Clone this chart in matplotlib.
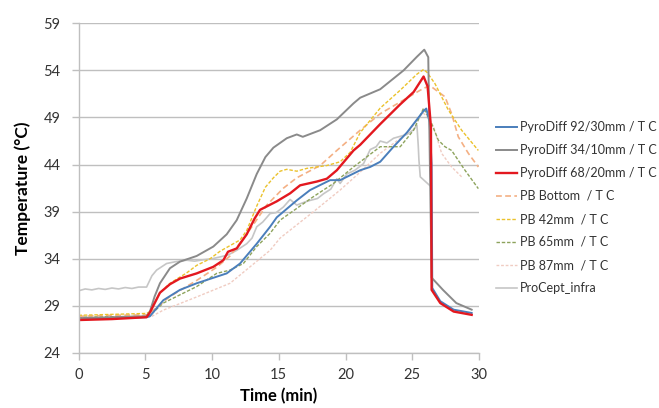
import matplotlib
matplotlib.use("Agg")
import matplotlib.pyplot as plt

plt.rcParams['font.family'] = ['Lato', 'DejaVu Sans']

# ---- data (time in min, temperature in degC) ----
blue_t = [0, 2.5, 5.1, 5.35, 6.35, 7.6, 8.85, 10.35, 11.1, 12.1, 13.35, 14.35, 14.85, 16.35, 17.35, 18.85, 19.6, 20.1, 21.1, 21.85, 22.6, 23.6, 24.6, 25.85, 26.05, 26.3, 26.45, 26.5, 27.1, 28.1, 29.45]
blue_T = [27.6, 27.7, 27.8, 27.9, 29.6, 30.7, 31.4, 32.1, 32.45, 33.5, 35.6, 37.4, 38.4, 40.2, 41.3, 42.35, 42.35, 42.7, 43.4, 43.75, 44.3, 45.9, 47.4, 49.7, 49.95, 48.5, 44.0, 30.9, 29.5, 28.6, 28.25]

grey_t = [0, 2.5, 5.1, 5.35, 5.7, 6.1, 6.85, 7.6, 8.85, 10.1, 11.1, 11.85, 12.6, 13.35, 14.0, 14.6, 15.6, 16.35, 16.8, 18.1, 19.35, 20.6, 21.1, 22.6, 24.35, 25.35, 25.9, 26.2, 26.45, 27.3, 28.3, 29.45]
grey_T = [27.7, 27.8, 27.9, 28.4, 30.0, 31.4, 33.0, 33.7, 34.3, 35.3, 36.6, 38.1, 40.4, 43.0, 44.8, 45.8, 46.8, 47.2, 46.95, 47.65, 48.8, 50.5, 51.1, 52.0, 54.0, 55.45, 56.2, 55.4, 32.0, 30.7, 29.3, 28.6]

red_t = [0, 2.5, 5.1, 5.35, 6.1, 6.85, 7.6, 8.85, 10.1, 10.85, 11.2, 11.85, 12.6, 13.2, 13.6, 14.85, 15.85, 16.6, 17.85, 18.6, 19.35, 20.6, 21.1, 22.6, 24.1, 25.1, 25.85, 26.15, 26.4, 26.45, 27.1, 28.1, 29.45]
red_T = [27.5, 27.6, 27.8, 28.3, 30.4, 31.3, 31.9, 32.45, 33.15, 33.85, 34.75, 35.1, 36.6, 38.3, 39.2, 40.1, 40.95, 41.8, 42.2, 42.5, 43.4, 45.5, 46.1, 48.3, 50.4, 51.7, 53.35, 52.3, 48.0, 30.7, 29.3, 28.4, 28.05]

orange_t = [0, 2.5, 5.1, 5.4, 6.85, 8.85, 10.35, 11.35, 12.6, 14.1, 15.35, 16.35, 18.1, 19.35, 21.1, 22.6, 24.1, 25.6, 26.3, 26.45, 27.45, 27.95, 28.45, 29.2, 29.95]
orange_T = [27.9, 28.0, 28.05, 28.3, 30.0, 31.7, 33.1, 34.3, 36.6, 39.7, 41.5, 42.6, 43.9, 45.5, 47.65, 49.4, 50.65, 51.9, 52.4, 52.25, 51.2, 49.4, 46.95, 45.2, 43.75]

yellow_t = [0, 2.5, 5.1, 5.35, 6.1, 6.85, 8.1, 8.85, 9.85, 10.6, 11.35, 12.1, 12.6, 13.35, 14.0, 14.6, 15.1, 15.6, 16.35, 17.1, 18.6, 19.6, 20.35, 21.1, 22.6, 24.1, 25.35, 25.85, 26.1, 26.7, 27.7, 28.7, 29.95]
yellow_T = [28.0, 28.1, 28.2, 28.4, 30.4, 31.4, 32.5, 33.3, 34.0, 34.8, 35.4, 36.0, 37.0, 39.6, 41.6, 42.6, 43.3, 43.5, 43.3, 43.6, 43.9, 44.3, 45.3, 47.4, 50.0, 51.9, 53.6, 54.1, 53.8, 52.6, 49.8, 47.65, 45.5]

green_t = [0, 2.5, 5.1, 5.35, 6.35, 8.85, 10.35, 11.35, 12.35, 13.35, 14.35, 15.1, 17.6, 19.1, 20.6, 22.6, 24.1, 25.1, 25.85, 26.45, 26.95, 27.45, 27.95, 28.95, 29.95]
green_T = [27.8, 27.85, 27.9, 28.0, 29.3, 31.05, 32.45, 32.8, 33.5, 35.3, 36.7, 38.1, 40.6, 42.0, 43.75, 45.9, 45.9, 47.65, 50.0, 48.35, 46.6, 45.9, 45.5, 43.4, 41.45]

pink_t = [0, 2.5, 5.1, 5.5, 6.35, 8.85, 11.35, 12.85, 14.35, 15.1, 17.6, 19.6, 21.1, 22.6, 24.6, 25.8, 26.2, 26.6, 27.2, 27.95, 28.7]
pink_T = [27.7, 27.75, 27.8, 27.9, 28.55, 29.95, 31.4, 33.15, 34.9, 36.2, 39.0, 41.3, 43.2, 45.2, 47.3, 49.5, 49.0, 48.0, 45.2, 43.75, 42.7]

procept_t = [0, 0.5, 1.0, 1.5, 2.0, 2.5, 3.0, 3.5, 4.0, 4.5, 5.1, 5.5, 5.85, 6.6, 7.3, 8.1, 8.7, 9.35, 10.0, 10.6, 11.2, 11.85, 12.6, 13.0, 13.35, 13.8, 14.35, 14.8, 15.35, 15.85, 16.35, 16.9, 17.35, 17.9, 18.35, 18.9, 19.35, 19.6, 20.1, 20.7, 21.35, 21.85, 22.3, 22.6, 23.1, 23.6, 24.1, 24.6, 25.1, 25.35, 25.45, 25.5, 25.6, 26.3]
procept_T = [30.6, 30.8, 30.7, 30.85, 30.75, 30.9, 30.8, 30.95, 30.85, 31.0, 31.0, 32.2, 32.8, 33.5, 33.7, 33.85, 33.75, 33.9, 34.0, 34.2, 34.4, 34.9, 35.6, 36.2, 37.4, 37.9, 38.8, 38.9, 39.5, 40.3, 39.7, 40.0, 40.2, 40.4, 40.9, 41.4, 42.5, 42.0, 43.0, 43.4, 44.1, 45.6, 45.9, 46.5, 46.3, 46.8, 47.0, 47.2, 47.7, 48.2, 46.0, 44.5, 42.7, 41.8]

labels = ["PyroDiff 92/30mm / T C", "PyroDiff 34/10mm / T C", "PyroDiff 68/20mm / T C",
          "PB Bottom  / T C", "PB 42mm  / T C", "PB 65mm  / T C", "PB 87mm  / T C", "ProCept_infra"]

xticks = [0, 5, 10, 15, 20, 25, 30]
yticks = [24, 29, 34, 39, 44, 49, 54, 59]

fig = plt.figure(figsize=(6.59, 4.08), dpi=100)
ax = fig.add_axes([78.5/659, 1-353/408, (479-78.5)/659, (353-23.3)/408])

series = [
    (blue_t, blue_T, dict(color='#4A7EBB', lw=1.4, ls='-')),
    (grey_t, grey_T, dict(color='#8A8A8A', lw=1.4, ls='-')),
    (red_t, red_T, dict(color='#E3181F', lw=1.7, ls='-')),
    (orange_t, orange_T, dict(color='#F4B084', lw=1.2, ls=(0, (3.5, 2)))),
    (yellow_t, yellow_T, dict(color='#EBC22C', lw=1.0, ls=(0, (2.5, 1.3)))),
    (green_t, green_T, dict(color='#8DA35C', lw=1.0, ls=(0, (2.5, 1.3)))),
    (pink_t, pink_T, dict(color='#F0CCC2', lw=1.0, ls=(0, (2, 1.3)))),
    (procept_t, procept_T, dict(color='#C6C6C6', lw=1.2, ls='-')),
]
order = [7, 6, 5, 3, 4, 0, 1, 2]
handles = [None]*8
for i in order:
    t, T, st = series[i]
    h, = ax.plot(t, T, label=labels[i], **st)
    handles[i] = h

ax.set_xlim(0, 30)
ax.set_ylim(24, 59)
ax.set_xticks(xticks)
ax.set_yticks(yticks)
ax.yaxis.grid(True, color='#BFBFBF', lw=1.0)
ax.set_axisbelow(True)
for s in ['top', 'right']:
    ax.spines[s].set_visible(False)
for s in ['left', 'bottom']:
    ax.spines[s].set_color('#BFBFBF')
    ax.spines[s].set_linewidth(1.0)
ax.tick_params(axis='both', colors='#BFBFBF', labelcolor='#333333', labelsize=10.5, length=5, width=1.0)
ax.tick_params(axis='x', pad=6)
ax.tick_params(axis='y', pad=8)

ax.set_xlabel("Time (min)", fontsize=12, fontweight='bold', color='#000000', labelpad=4)
ax.set_ylabel("Temperature (°C)", fontsize=12.5, fontweight='bold', color='#000000', labelpad=9)

leg = fig.legend(handles=handles, labels=labels, loc='upper left',
                 bbox_to_anchor=(496/659, 1-121/408), bbox_transform=fig.transFigure,
                 frameon=False, fontsize=9, handlelength=1.65, handletextpad=0.25,
                 labelspacing=0.88, borderpad=0, borderaxespad=0)
for txt in leg.get_texts():
    txt.set_color('#333333')

fig.savefig("out.png", dpi=100)
